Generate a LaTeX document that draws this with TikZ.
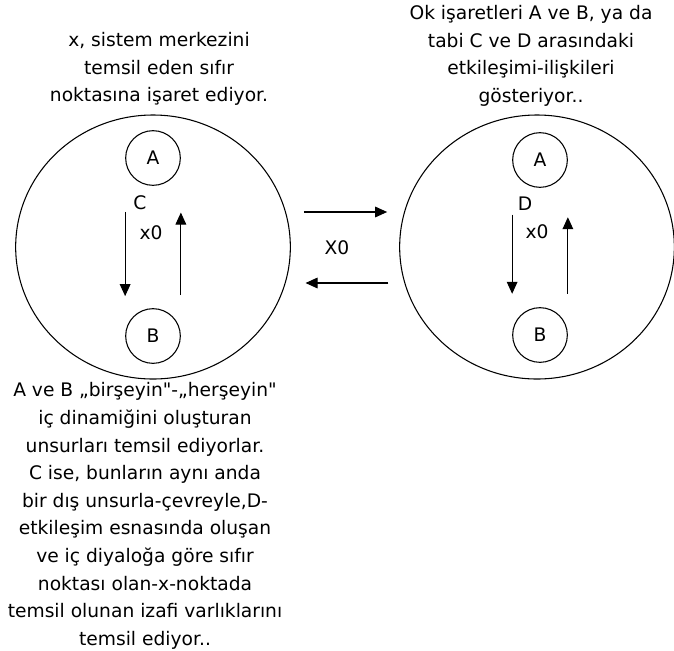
\documentclass[tikz,border=0pt]{standalone}
\usepackage{fontspec}
\setmainfont{DejaVu Sans}
\usetikzlibrary{shapes,arrows.meta}

\begin{document}
\begin{tikzpicture}[x=0.75pt,y=0.75pt,yscale=-1,xscale=1,
  line width=0.8pt,
  every node/.style={font=\fontsize{14}{20.7}\selectfont},
  system/.style={draw,ellipse,minimum width=206pt,minimum height=198pt,inner sep=0pt},
  part/.style={draw,circle,minimum size=41pt,inner sep=0pt},
  flow/.style={-{Triangle[length=9pt,width=8pt]}},
  note/.style={align=center}]
\useasboundingbox (0,0) rectangle (674,650);

%Systems
\node [system] (sysL) at (153,247) {};
\node [system] (sysR) at (537,247) {};

%Inner circles
\node [part] (aL) at (153,158) {A};
\node [part] (bL) at (153,336) {B};
\node [part] (aR) at (540,160) {A};
\node [part] (bR) at (540,335) {B};

%Inner arrows, left system
\draw [flow, shorten <=19.5pt, shorten >=9pt] (aL.west |- aL.south) -- (aL.west |- bL.north);
\draw [flow, shorten <=9.75pt, shorten >=20pt] (aL.east |- bL.north) -- (aL.east |- aL.south);

%Inner arrows, right system
\draw [flow, shorten <=20pt, shorten >=10pt] (aR.west |- aR.south) -- (aR.west |- bR.north);
\draw [flow, shorten <=10pt, shorten >=22pt] (aR.east |- bR.north) -- (aR.east |- aR.south);

%Arrows between systems
\draw [flow, shorten <=9.75pt, shorten >=9pt] ([yshift=-26.25pt]sysL.east) -- ([yshift=-26.25pt]sysR.west);
\draw [flow, shorten <=8pt, shorten >=11pt] ([yshift=27pt]sysR.west) -- ([yshift=27pt]sysL.east);

% Text Node
\node (lblC) at (140,203) {C};
% Text Node
\node (lblxL) at (151,233) {x0};
% Text Node
\node (lblD) at (525,204) {D};
% Text Node
\node (lblxR) at (537,232) {x0};
% Text Node
\node (lblX) at (337,248) {X0};

% Text Node
\node [note] (noteL) at (159,69) {x, sistem merkezini\\temsil eden sıfır\\noktasına işaret ediyor.};
% Text Node
\node [note] (noteR) at (531,56) {Ok işaretleri A ve B, ya da\\tabi C ve D arasındaki\\etkileşimi-ilişkileri\\gösteriyor..};
% Text Node
\node [note] (noteB) at (145,516) {A ve B „birşeyin\textquotedbl-„herşeyin\textquotedbl\\iç dinamiğini oluşturan\\unsurları temsil ediyorlar.\\C ise, bunların aynı anda\\bir dış unsurla-çevreyle,D-\\etkileşim esnasında oluşan\\ve iç diyaloğa göre sıfır\\noktası olan-x-noktada\\temsil olunan izafi varlıklarını\\temsil ediyor..};

\end{tikzpicture}
\end{document}
